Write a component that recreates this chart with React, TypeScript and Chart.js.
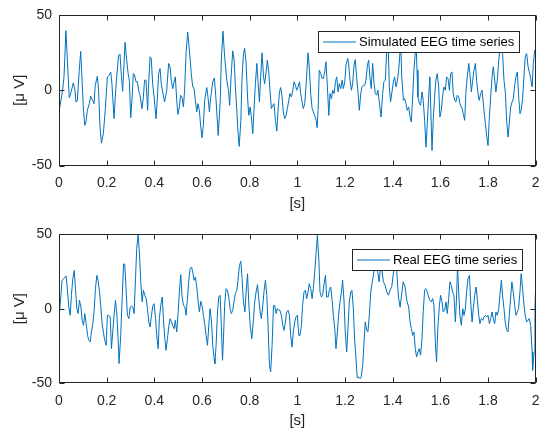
import { useEffect, useRef } from "react";
import { Chart, registerables } from "chart.js";

Chart.register(...registerables);

const xTickValues = [0, 0.2, 0.4, 0.6, 0.8, 1, 1.2, 1.4, 1.6, 1.8, 2];
const yTickValues = [-50, 0, 50];
const xTitle = "[s]";
const yTitle = "[μ V]";
const simLabel = "Simulated EEG time series";
const realLabel = "Real EEG time series";

const simTime = [
  0, 0.015, 0.021, 0.029, 0.043, 0.049, 0.06, 0.067, 0.071, 0.077,
  0.085, 0.091, 0.102, 0.108, 0.113, 0.119, 0.127, 0.133, 0.141, 0.147,
  0.152, 0.161, 0.166, 0.172, 0.178, 0.186, 0.194, 0.203, 0.211, 0.217,
  0.222, 0.231, 0.236, 0.242, 0.25, 0.256, 0.262, 0.267, 0.273, 0.277,
  0.284, 0.29, 0.295, 0.301, 0.306, 0.312, 0.317, 0.323, 0.329, 0.334,
  0.34, 0.348, 0.354, 0.359, 0.365, 0.372, 0.376, 0.382, 0.387, 0.393,
  0.399, 0.407, 0.413, 0.418, 0.424, 0.429, 0.435, 0.443, 0.452, 0.46,
  0.466, 0.471, 0.477, 0.483, 0.488, 0.494, 0.499, 0.505, 0.51, 0.516,
  0.522, 0.527, 0.533, 0.54, 0.547, 0.555, 0.561, 0.566, 0.572, 0.578,
  0.583, 0.589, 0.594, 0.6, 0.606, 0.611, 0.62, 0.625, 0.631, 0.636,
  0.645, 0.652, 0.659, 0.668, 0.676, 0.681, 0.688, 0.695, 0.704, 0.711,
  0.716, 0.722, 0.729, 0.735, 0.74, 0.746, 0.751, 0.756, 0.763, 0.768,
  0.774, 0.779, 0.785, 0.791, 0.796, 0.802, 0.807, 0.813, 0.818, 0.824,
  0.83, 0.835, 0.841, 0.846, 0.852, 0.858, 0.863, 0.869, 0.874, 0.88,
  0.886, 0.891, 0.897, 0.902, 0.908, 0.914, 0.919, 0.925, 0.93, 0.936,
  0.941, 0.947, 0.953, 0.958, 0.964, 0.969, 0.975, 0.981, 0.986, 0.992,
  0.997, 1.003, 1.009, 1.014, 1.02, 1.025, 1.031, 1.037, 1.045, 1.051,
  1.056, 1.062, 1.067, 1.073, 1.079, 1.083, 1.087, 1.092, 1.098, 1.104,
  1.109, 1.115, 1.12, 1.126, 1.132, 1.137, 1.143, 1.148, 1.154, 1.16,
  1.165, 1.171, 1.176, 1.182, 1.188, 1.193, 1.199, 1.204, 1.211, 1.215,
  1.221, 1.227, 1.232, 1.238, 1.243, 1.249, 1.255, 1.26, 1.266, 1.271,
  1.277, 1.283, 1.288, 1.294, 1.299, 1.305, 1.31, 1.316, 1.322, 1.327,
  1.333, 1.338, 1.351, 1.358, 1.363, 1.369, 1.375, 1.38, 1.386, 1.391,
  1.397, 1.403, 1.408, 1.414, 1.419, 1.425, 1.431, 1.433, 1.438, 1.445,
  1.45, 1.456, 1.461, 1.467, 1.473, 1.478, 1.484, 1.489, 1.495, 1.498,
  1.502, 1.506, 1.512, 1.517, 1.523, 1.528, 1.534, 1.54, 1.545, 1.551,
  1.556, 1.562, 1.565, 1.57, 1.576, 1.581, 1.587, 1.593, 1.598, 1.604,
  1.609, 1.615, 1.621, 1.626, 1.632, 1.638, 1.643, 1.649, 1.654, 1.66,
  1.665, 1.671, 1.677, 1.682, 1.691, 1.696, 1.702, 1.707, 1.713, 1.719,
  1.724, 1.73, 1.735, 1.741, 1.747, 1.752, 1.758, 1.763, 1.769, 1.775,
  1.783, 1.789, 1.794, 1.8, 1.805, 1.811, 1.817, 1.822, 1.828, 1.833,
  1.839, 1.845, 1.85, 1.856, 1.861, 1.867, 1.873, 1.878, 1.884, 1.889,
  1.895, 1.901, 1.906, 1.912, 1.917, 1.923, 1.929, 1.934, 1.939, 1.945,
  1.951, 1.956, 1.962, 1.968, 1.973, 1.979, 1.985, 1.99, 1.996, 2.0,
];

const simValue = [
  -14.4, 0, 8.9, 39.6, -4.9, -2.2, 4.9, 0, -7.8, -7.1,
  13.3, 25.8, -11.1, -23.3, -21.1, -13.3, -8.9, -4.0, -6.7, -8.9,
  3.3, 9.3, 0, -24.4, -35.1, -28.9, -13.3, 8.9, 10.0, 12.0,
  4.4, -18.9, -4.4, 8.9, 23.3, 24.0, 8.9, -0.7, 17.8, 31.8,
  20.0, 11.1, 6.7, -18.2, -6.7, 11.1, 10.0, 5.6, 5.6, 0,
  -3.3, -12.2, -4.4, 6.7, 6.7, -13.3, 4.4, 22.2, 21.1, 4.4,
  -4.4, -18.9, -4.4, 11.1, 14.4, 4.4, -1.1, -7.8, 0, 17.8,
  15.6, 6.7, 1.1, 5.6, 8.9, -6.7, -16.0, -11.1, -3.3, -4.4,
  -11.1, 0, 24.4, 38.7, 26.7, 11.1, 2.2, 1.8, -6.7, -14.4,
  -8.9, -13.3, -23.3, -31.6, -22.2, -6.7, 1.8, -4.4, -14.4, -5.6,
  5.6, 8.2, -6.7, -30.0, -8.9, 20.0, 39.3, 22.2, 6.7, 0,
  -10.0, 8.9, 26.2, 20.0, 2.2, -13.3, -27.8, -37.3, -20.0, 8.9,
  24.4, 27.8, 17.8, -4.4, -16.7, -11.1, -17.8, -28.9, -13.3, 4.4,
  17.8, 5.6, -7.8, 8.9, 24.9, 8.9, 4.4, 12.2, 20.0, 12.2,
  -2.2, -12.2, -10.0, -8.9, -20.0, -27.1, -13.3, -1.1, 1.8, -4.4,
  -14.4, -18.9, -16.7, -12.2, -6.7, -2.2, -4.4, 0, 5.6, 3.3,
  0, 2.2, 5.6, -2.2, -7.8, -12.2, -8.9, 4.4, 24.9, 13.3,
  -2.2, -12.2, -14.4, -16.7, -20.0, -24.9, -13.3, 13.3, 11.1, 7.8,
  7.8, 12.2, 18.9, 2.2, -16.7, -2.2, -5.6, 0, -2.2, 5.6,
  8.9, -1.1, 4.4, 1.1, 6.7, 1.1, 5.6, 16.7, 21.1, 17.8,
  6.7, 0, 4.4, 16.7, 20.4, 7.8, -2.2, -13.3, -2.2, 2.2,
  3.3, 3.3, 6.7, 16.7, 20.0, 7.8, 1.1, 17.8, 4.4, -2.2,
  -3.3, 0, -17.8, -2.2, 5.6, 6.7, 26.7, 35.0, 2.2, -7.8,
  -1.1, 5.6, 8.9, 2.2, 5.6, 13.3, 25.6, 35.0, 8.9, -6.7,
  -5.6, -8.9, -13.3, -11.1, -17.8, -21.1, -4.4, 13.3, 25.6, 32.0,
  13.3, -4.4, -8.9, -10.0, -1.1, -6.7, -20.0, -37.8, -22.2, -4.4,
  8.9, -24.4, -40.0, -20.0, -4.4, 6.7, 11.1, 2.2, -17.8, -13.3,
  -4.4, 2.2, 0, 8.9, 7.8, 0, 11.1, 12.2, -2.2, -6.7,
  -7.8, -3.3, -4.4, -8.9, -12.2, -15.6, -20.0, -2.2, 8.9, 17.8,
  11.1, -1.1, 5.6, 13.3, 17.8, 6.7, -2.2, -6.7, -2.2, 0,
  -13.3, -22.2, -30.0, -36.7, -20.0, -4.4, 8.9, 15.6, 6.7, -1.1,
  6.7, 20.0, 26.7, 35.0, 24.4, 6.7, -2.2, -20.0, -31.1, -22.2,
  -11.1, -7.8, -5.6, 3.3, 8.9, 12.2, -5.6, -15.6, -13.3, -5.6,
  10.0, 22.2, 24.4, 15.6, 12.2, 7.8, 2.2, 17.8, 26.7, 24.4,
];

const realTime = [
  0, 0.008, 0.013, 0.022, 0.03, 0.036, 0.041, 0.047, 0.052, 0.058,
  0.064, 0.069, 0.075, 0.08, 0.086, 0.092, 0.097, 0.103, 0.108, 0.114,
  0.12, 0.125, 0.131, 0.136, 0.142, 0.148, 0.153, 0.159, 0.164, 0.17,
  0.175, 0.181, 0.187, 0.192, 0.198, 0.203, 0.209, 0.215, 0.22, 0.226,
  0.231, 0.237, 0.243, 0.248, 0.252, 0.259, 0.265, 0.271, 0.276, 0.282,
  0.287, 0.293, 0.299, 0.304, 0.31, 0.315, 0.321, 0.326, 0.332, 0.338,
  0.343, 0.349, 0.354, 0.36, 0.366, 0.371, 0.377, 0.382, 0.388, 0.394,
  0.399, 0.405, 0.41, 0.416, 0.421, 0.427, 0.433, 0.438, 0.444, 0.449,
  0.455, 0.461, 0.466, 0.472, 0.477, 0.483, 0.488, 0.494, 0.5, 0.505,
  0.511, 0.516, 0.522, 0.528, 0.533, 0.539, 0.544, 0.55, 0.556, 0.561,
  0.567, 0.572, 0.578, 0.584, 0.589, 0.595, 0.6, 0.606, 0.612, 0.617,
  0.623, 0.628, 0.634, 0.64, 0.645, 0.651, 0.654, 0.659, 0.665, 0.67,
  0.676, 0.681, 0.686, 0.69, 0.695, 0.701, 0.707, 0.712, 0.718, 0.723,
  0.729, 0.735, 0.74, 0.746, 0.751, 0.757, 0.763, 0.768, 0.774, 0.78,
  0.785, 0.791, 0.796, 0.802, 0.809, 0.816, 0.821, 0.827, 0.833, 0.838,
  0.844, 0.849, 0.855, 0.86, 0.866, 0.872, 0.877, 0.883, 0.888, 0.894,
  0.9, 0.905, 0.911, 0.916, 0.922, 0.927, 0.933, 0.939, 0.944, 0.95,
  0.955, 0.961, 0.967, 0.972, 0.978, 0.983, 0.989, 0.994, 1.0, 1.006,
  1.011, 1.017, 1.022, 1.028, 1.034, 1.039, 1.045, 1.05, 1.056, 1.062,
  1.067, 1.073, 1.079, 1.084, 1.09, 1.095, 1.101, 1.106, 1.112, 1.118,
  1.123, 1.129, 1.134, 1.14, 1.146, 1.151, 1.157, 1.162, 1.168, 1.173,
  1.179, 1.185, 1.19, 1.196, 1.201, 1.207, 1.213, 1.218, 1.224, 1.229,
  1.235, 1.24, 1.246, 1.251, 1.257, 1.263, 1.268, 1.274, 1.279, 1.285,
  1.291, 1.296, 1.302, 1.308, 1.313, 1.319, 1.327, 1.335, 1.343, 1.351,
  1.361, 1.368, 1.375, 1.382, 1.389, 1.396, 1.403, 1.41, 1.417, 1.424,
  1.431, 1.438, 1.444, 1.452, 1.459, 1.467, 1.473, 1.478, 1.484, 1.489,
  1.495, 1.5, 1.506, 1.511, 1.517, 1.523, 1.528, 1.534, 1.539, 1.545,
  1.551, 1.556, 1.562, 1.568, 1.573, 1.579, 1.584, 1.59, 1.596, 1.601,
  1.607, 1.612, 1.618, 1.624, 1.629, 1.635, 1.64, 1.646, 1.651, 1.657,
  1.663, 1.668, 1.672, 1.677, 1.682, 1.688, 1.694, 1.699, 1.705, 1.71,
  1.716, 1.722, 1.727, 1.733, 1.738, 1.744, 1.75, 1.755, 1.761, 1.766,
  1.772, 1.778, 1.783, 1.789, 1.794, 1.8, 1.806, 1.811, 1.817, 1.822,
  1.828, 1.833, 1.839, 1.845, 1.85, 1.856, 1.861, 1.867, 1.872, 1.878,
  1.884, 1.889, 1.895, 1.9, 1.906, 1.912, 1.917, 1.923, 1.928, 1.934,
  1.939, 1.945, 1.951, 1.956, 1.962, 1.968, 1.973, 1.979, 1.985, 1.987,
  1.993, 1.997, 2.0,
];

const realValue = [
  -6.7, 8.9, 19.0, 20.5, 21.9, 11.2, 1.1, -4.5, 8.9, 20.1,
  25.7, 13.4, 0, -3.3, 5.6, 1.1, -7.8, -11.2, -3.3, -10.0,
  -17.9, -21.2, -22.3, -15.6, -10.0, 0, 13.4, 22.3, 19.0, 11.2,
  2.2, -10.0, -16.7, -21.2, -24.6, -4.5, -4.5, -5.6, -26.8, -14.5,
  -4.5, 5.6, -4.5, -20.1, -36.8, -17.9, 6.7, 30.1, 29.5, 11.2,
  -4.5, -6.7, 1.1, 1.8, 1.1, -3.3, 20.1, 40.2, 49.6, 35.7,
  17.9, 4.5, 12.3, 8.9, 6.7, 0, -8.9, -12.3, -4.5, 2.2,
  3.3, -6.7, -17.9, -26.8, -6.7, 2.2, 7.8, -6.7, -20.1, -27.9,
  -20.1, -11.2, -6.7, -8.9, -11.2, -13.4, -7.8, -15.6, -2.2, 11.2,
  22.8, 8.9, 2.2, 1.1, -4.5, 6.7, 17.9, 26.8, 27.9, 24.6,
  19.0, 21.2, 14.5, 4.5, -2.2, 4.9, 2.2, -4.5, -11.2, -17.9,
  -24.6, -12.3, 0, -8.9, -24.6, -33.5, -36.8, -24.6, -2.2, 7.8,
  8.9, -11.2, -34.6, -20.1, 2.2, 13.4, 12.3, 7.8, 0, -3.3,
  -1.1, 5.6, 10.0, 12.3, 19.0, 29.0, 31.7, 20.1, 4.5, -2.2,
  11.2, 23.4, 4.5, -11.2, -20.1, -6.7, 4.5, 11.2, 16.1, 6.7,
  -2.2, -6.7, 2.2, 11.2, 19.0, 8.9, -11.2, -37.9, -42.4, -24.6,
  2.2, 2.2, -3.3, 0, -1.1, -1.1, -4.5, -11.2, -14.5, -8.9,
  -2.2, -1.1, -4.5, -17.9, -25.7, -15.6, -8.9, -5.6, -4.5, -17.9,
  -17.9, -11.2, 2.2, 11.2, 12.3, 6.7, 11.2, 16.7, 13.4, 6.7,
  13.4, 24.6, 37.9, 49.1, 33.5, 11.2, 7.8, 8.9, 16.7, 22.3,
  7.8, 7.8, 12.3, 14.5, 5.6, -4.5, -13.4, -26.8, -15.6, -4.5,
  4.5, 11.2, 19.0, 4.5, -15.6, -29.0, -11.2, 4.5, 11.2, 12.3,
  0, -20.1, -33.5, -46.4, -45.7, -46.9, -45.7, -37.9, -24.6, -8.9,
  -14.5, -15.6, -4.5, 11.2, 16.7, 22.3, 30.0, 27.0, 18.0, 30.0,
  18.0, 15.8, 11.2, 9.0, 12.4, 14.6, 23.7, 32.0, 25.0, 7.9,
  1.0, 10.0, 18.0, 14.6, 5.6, 1.1, -8.9, -13.4, -17.9, -15.6,
  -26.8, -32.4, -29.0, -26.8, -31.2, -20.1, -2.2, 12.3, 13.4, 11.2,
  7.8, 5.6, 4.5, 6.7, 2.2, -22.3, -35.7, -11.2, 2.2, 8.9,
  4.5, -2.2, -1.1, 4.5, -3.3, 6.7, 17.9, 15.6, 11.2, 8.9,
  -8.9, 7.8, 28.0, 11.2, -4.5, -11.2, 0, -4.5, 0, 11.2,
  20.1, 22.3, 5.6, -8.9, 0, 8.9, 14.5, 6.7, -4.5, -10.0,
  -6.7, -7.8, -5.6, -4.5, -5.6, -4.5, -10.0, -6.7, -2.2, -6.7,
  -10.0, -2.2, -4.5, 0, 8.9, 19.0, 8.9, 0, -8.9, -14.5,
  -15.6, -4.5, 7.8, 17.9, 11.2, 2.2, -4.5, -2.2, 0, 11.2,
  23.4, 13.4, 2.2, -4.5, -8.9, -7.8, -6.7, -11.2, -29.0, -41.3,
  -29.0, 0, 16.7,
];

const FAMILY = "'Liberation Sans', Arial, Helvetica, sans-serif";
const AXIS_COLOR = "#262626";
const LINE_COLOR = "#0072BD";

function pairs(t: number[], v: number[]) {
  return t.map((x, i) => ({ x, y: v[i] }));
}

const matlabAxes = {
  id: "matlabAxes",
  afterDraw(chart: any, _args: any, opts: any) {
    const { ctx, chartArea: a, scales } = chart;
    const L = Math.round(a.left) + 0.5;
    const R = Math.round(a.right) - 0.5;
    const T = Math.round(a.top) + 0.5;
    const B = Math.round(a.bottom) - 0.5;
    ctx.save();
    ctx.strokeStyle = AXIS_COLOR;
    ctx.lineWidth = 1;
    ctx.strokeRect(L, T, R - L, B - T);
    const tl = 5;
    ctx.beginPath();
    for (const v of xTickValues) {
      const px = Math.round(scales.x.getPixelForValue(v)) + 0.5;
      ctx.moveTo(px, B);
      ctx.lineTo(px, B - tl);
      ctx.moveTo(px, T);
      ctx.lineTo(px, T + tl);
    }
    for (const v of yTickValues) {
      const py = Math.round(scales.y.getPixelForValue(v)) + 0.5;
      ctx.moveTo(L, py);
      ctx.lineTo(L + tl, py);
      ctx.moveTo(R, py);
      ctx.lineTo(R - tl, py);
    }
    ctx.stroke();

    // legend box
    const ds = chart.data.datasets[0];
    ctx.font = `13px ${FAMILY}`;
    const tw = ctx.measureText(ds.label).width;
    const padL = 4.5, lineLen = 33, gap = 3, padR = 5, h = 21;
    const w = Math.round(padL + lineLen + gap + tw + padR);
    const bx = Math.round(a.right - opts.right - w) + 0.5;
    const by = Math.round(a.top + opts.top) + 0.5;
    ctx.fillStyle = "#ffffff";
    ctx.fillRect(bx, by, w, h);
    ctx.strokeStyle = AXIS_COLOR;
    ctx.strokeRect(bx, by, w, h);
    ctx.strokeStyle = ds.borderColor;
    ctx.beginPath();
    ctx.moveTo(bx + padL, by + h / 2);
    ctx.lineTo(bx + padL + lineLen, by + h / 2);
    ctx.stroke();
    ctx.fillStyle = "#000000";
    ctx.textBaseline = "middle";
    ctx.textAlign = "left";
    ctx.fillText(ds.label, bx + padL + lineLen + gap, by + h / 2 + 0.5);
    ctx.restore();
  },
};

function buildConfig(label: string, t: number[], v: number[], o: any): any {
  return {
    type: "line",
    data: {
      datasets: [
        {
          label,
          data: pairs(t, v),
          borderColor: LINE_COLOR,
          borderWidth: 1,
          pointRadius: 0,
          tension: 0,
          fill: false,
        },
      ],
    },
    plugins: [matlabAxes],
    options: {
      responsive: false,
      animation: false,
      devicePixelRatio: 1,
      layout: { padding: { left: 0, right: 3.3, top: o.top, bottom: 0 } },
      plugins: {
        legend: { display: false },
        tooltip: { enabled: false },
        matlabAxes: { right: o.legendRight, top: o.legendTop },
      },
      scales: {
        x: {
          type: "linear",
          min: 0,
          max: 2,
          afterBuildTicks: (s: any) => {
            s.ticks = xTickValues.map((value) => ({ value }));
          },
          afterFit: (s: any) => {
            s.height = o.xHeight;
            s.paddingLeft = 0;
            s.paddingRight = 0;
          },
          grid: { display: false, drawTicks: false },
          border: { display: false },
          ticks: {
            autoSkip: false,
            maxRotation: 0,
            minRotation: 0,
            padding: 9.4,
            color: AXIS_COLOR,
            font: { family: FAMILY, size: 14 },
            callback: (val: any) => String(Math.round(Number(val) * 10) / 10),
          },
          title: {
            display: true,
            text: xTitle,
            color: AXIS_COLOR,
            font: { family: FAMILY, size: 15 },
            padding: { top: 0, bottom: o.xTitlePad },
          },
        },
        y: {
          type: "linear",
          min: -50,
          max: 50,
          afterBuildTicks: (s: any) => {
            s.ticks = yTickValues.map((value) => ({ value }));
          },
          afterFit: (s: any) => {
            s.width = 59;
            s.paddingTop = 0;
            s.paddingBottom = 0;
          },
          grid: { display: false, drawTicks: false },
          border: { display: false },
          ticks: {
            padding: 7,
            color: AXIS_COLOR,
            font: { family: FAMILY, size: 14 },
            callback: (val: any) => String(val),
          },
          title: {
            display: true,
            text: yTitle,
            color: AXIS_COLOR,
            font: { family: FAMILY, size: 15 },
            padding: { top: 11, bottom: 0 },
          },
        },
      },
    },
  };
}

export default function App() {
  const topRef = useRef<HTMLCanvasElement | null>(null);
  const botRef = useRef<HTMLCanvasElement | null>(null);

  useEffect(() => {
    if (!topRef.current || !botRef.current) return;
    const c1 = new Chart(
      topRef.current,
      buildConfig(simLabel, simTime, simValue, {
        top: 15,
        xHeight: 50.5,
        xTitlePad: 3.5,
        legendRight: 16.5,
        legendTop: 15.7,
      })
    );
    const c2 = new Chart(
      botRef.current,
      buildConfig(realLabel, realTime, realValue, {
        top: 18,
        xHeight: 48.7,
        xTitlePad: 1.7,
        legendRight: 13.8,
        legendTop: 15,
      })
    );
    return () => {
      c1.destroy();
      c2.destroy();
    };
  }, []);

  return (
    <div
      style={{
        position: "absolute",
        left: 0,
        top: 0,
        width: 539,
        height: 432,
        background: "#ffffff",
        overflow: "hidden",
      }}
    >
      <canvas
        ref={topRef}
        width={539}
        height={216}
        style={{ position: "absolute", left: 0, top: 0, display: "block" }}
      />
      <canvas
        ref={botRef}
        width={539}
        height={216}
        style={{ position: "absolute", left: 0, top: 216, display: "block" }}
      />
    </div>
  );
}
